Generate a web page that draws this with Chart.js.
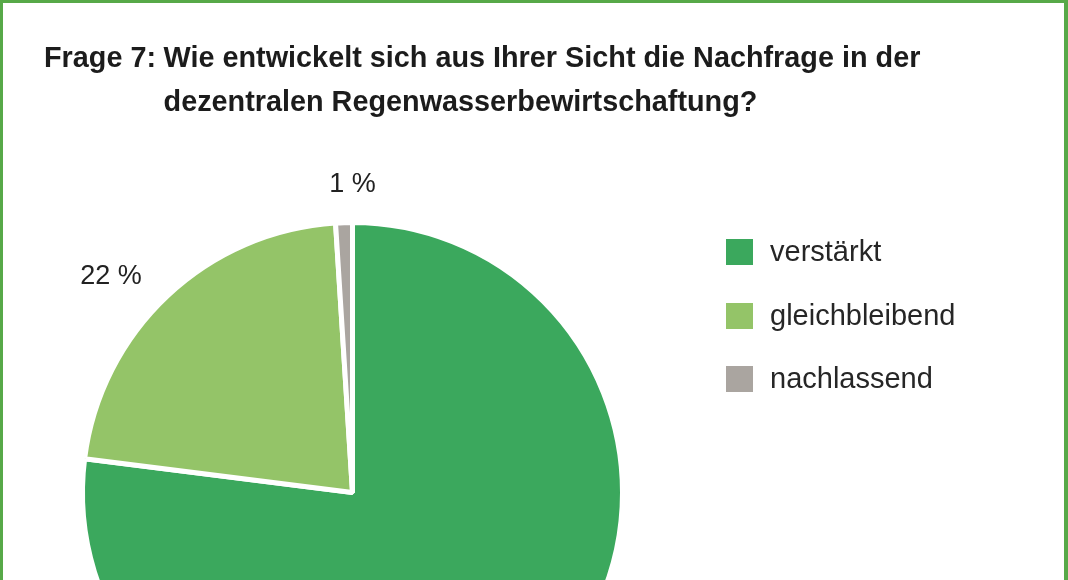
<!DOCTYPE html>
<html lang="de">
<head>
<meta charset="utf-8">
<title>Frage 7</title>
<script src="https://cdn.jsdelivr.net/npm/chart.js@4"></script>
<style>
    html, body {
        margin: 0;
        padding: 0;
        background: #ffffff;
        overflow: hidden;
    }
    #page {
        position: relative;
        width: 1068px;
        height: 580px;
        overflow: hidden;
        background: #ffffff;
        font-family: "Liberation Sans", Arial, sans-serif;
    }
    #pie {
        position: absolute;
        left: 0;
        top: 0;
    }
    #frame {
        position: absolute;
        left: 0;
        top: 0;
        width: 1068px;
        height: 620px;
        box-sizing: border-box;
        border: 3px solid #57a948;
        border-right-width: 4px;
        pointer-events: none;
    }
    #title {
        position: absolute;
        left: 44px;
        top: 35px;
        display: flex;
        white-space: nowrap;
        font-weight: bold;
        font-size: 29px;
        line-height: 44px;
        color: #1c1c1c;
        transform-origin: 0 0;
    }
    #title .q { margin-right: 0.26em; }
    #legend {
        position: absolute;
        left: 726px;
        top: 239px;
    }
    .legend-row {
        position: absolute;
        left: 0;
        height: 26px;
        white-space: nowrap;
    }
    .legend-box {
        position: absolute;
        left: 0;
        top: 0;
        width: 27px;
        height: 26px;
    }
    .legend-text {
        position: absolute;
        left: 44px;
        top: -8px;
        font-size: 29px;
        line-height: 40px;
        color: #262626;
    }
</style>
</head>
<body>
<div id="page">
    <canvas id="pie" width="1068" height="780"></canvas>
    <div id="title">
        <span class="q">Frage 7:</span>
        <span class="t">Wie entwickelt sich aus Ihrer Sicht die Nachfrage in der<br>dezentralen Regenwasserbewirtschaftung?</span>
    </div>
    <div id="legend"></div>
    <div id="frame"></div>
</div>
<script>
// Data
const categories = ['verstärkt', 'gleichbleibend', 'nachlassend'];
const shares = [77, 22, 1];
const sliceColors = ['#3ba85d', '#94c468', '#aaa5a0'];
const shownLabels = [null, '22 %', '1 %'];

// Title: squeeze to the narrow width of the original heading
const titleEl = document.getElementById('title');
const titleScale = 876 / titleEl.scrollWidth;
titleEl.style.transform = 'scaleX(' + titleScale + ')';

// Legend
const legendEl = document.getElementById('legend');
categories.forEach((name, i) => {
    const row = document.createElement('div');
    row.className = 'legend-row';
    row.style.top = Math.round(i * 63.5) + 'px';
    row.innerHTML = '<div class="legend-box" style="background:' + sliceColors[i] + '"></div>' +
        '<div class="legend-text">' + name + '</div>';
    legendEl.appendChild(row);
});

// Percent labels outside the slices
const outsideLabels = {
    id: 'outsideLabels',
    afterDatasetsDraw(chart, args, opts) {
        const ctx = chart.ctx;
        const arcs = chart.getDatasetMeta(0).data;
        ctx.save();
        ctx.font = '27px "Liberation Sans", Arial, sans-serif';
        ctx.fillStyle = '#222222';
        ctx.textAlign = 'center';
        ctx.textBaseline = 'middle';
        arcs.forEach((arc, i) => {
            const text = shownLabels[i];
            if (!text) return;
            const p = arc.getProps(['x', 'y', 'startAngle', 'endAngle', 'outerRadius'], true);
            const a = (p.startAngle + p.endAngle) / 2 + (opts.angleShift[i] || 0) * Math.PI / 180;
            const r = p.outerRadius * (opts.radiusFactor[i] || 1.2);
            ctx.fillText(text, p.x + Math.cos(a) * r, p.y + Math.sin(a) * r);
        });
        ctx.restore();
    }
};

const ctxPie = document.getElementById('pie').getContext('2d');

const pieChart = new Chart(ctxPie, {
    type: 'pie',
    data: {
        labels: categories,
        datasets: [{
            data: shares,
            backgroundColor: sliceColors,
            borderColor: '#ffffff',
            borderWidth: 5
        }]
    },
    options: {
        responsive: false,
        animation: false,
        layout: {
            padding: { left: 80, top: 220, right: 443, bottom: 15 }
        },
        plugins: {
            legend: { display: false },
            tooltip: { enabled: false },
            outsideLabels: {
                angleShift: [0, -5, 1.8],
                radiusFactor: [1.2, 1.2, 1.14]
            }
        }
    },
    plugins: [outsideLabels]
});
</script>
</body>
</html>
